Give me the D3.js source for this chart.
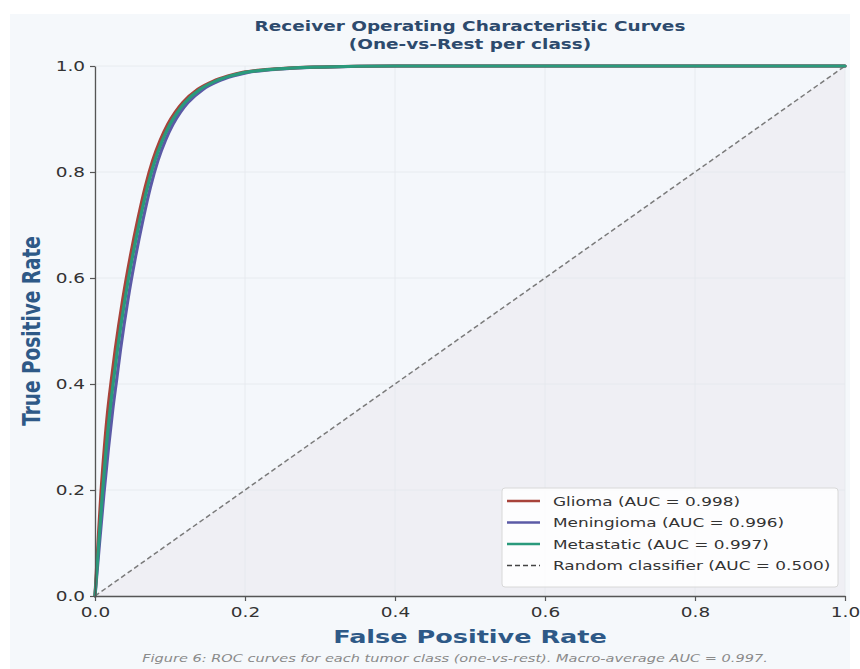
<!DOCTYPE html>
<html>
<head>
<meta charset="utf-8">
<script src="https://cdn.jsdelivr.net/npm/d3@7"></script>
<style>
  html, body { margin: 0; padding: 0; background: #ffffff; }
  svg { display: block; }
</style>
</head>
<body>
<svg id="chart" width="860" height="669"></svg>
<script>
// ---- Data ----
const classNames = ["Glioma", "Meningioma", "Metastatic"];
const aucValues = [0.998, 0.996, 0.997];
const randomAuc = 0.500;

const gliomaFpr = [0, 0.004, 0.008, 0.0125, 0.017, 0.022, 0.027, 0.037, 0.047, 0.057, 0.067, 0.077, 0.087, 0.097, 0.107, 0.117, 0.137, 0.157, 0.177, 0.197, 0.227, 0.257, 0.297, 0.347, 0.397, 1.0];
const gliomaTpr = [0, 0.10, 0.195, 0.28, 0.35, 0.41, 0.465, 0.56, 0.64, 0.71, 0.772, 0.822, 0.86, 0.89, 0.913, 0.931, 0.956, 0.971, 0.981, 0.988, 0.993, 0.996, 0.998, 0.9995, 1.0, 1.0];

const meningiomaFpr = [0, 0.006, 0.012, 0.018, 0.0235, 0.029, 0.034, 0.044, 0.054, 0.064, 0.074, 0.084, 0.094, 0.104, 0.114, 0.124, 0.144, 0.164, 0.184, 0.204, 0.234, 0.264, 0.304, 0.354, 0.404, 1.0];
const meningiomaTpr = [0, 0.10, 0.195, 0.28, 0.35, 0.41, 0.465, 0.56, 0.64, 0.71, 0.772, 0.822, 0.86, 0.89, 0.913, 0.931, 0.956, 0.971, 0.981, 0.988, 0.993, 0.996, 0.998, 0.9995, 1.0, 1.0];

const metastaticFpr = [0, 0.005, 0.010, 0.015, 0.020, 0.025, 0.030, 0.040, 0.050, 0.060, 0.070, 0.080, 0.090, 0.100, 0.110, 0.120, 0.140, 0.160, 0.180, 0.200, 0.230, 0.260, 0.300, 0.350, 0.400, 1.0];
const metastaticTpr = [0, 0.10, 0.195, 0.28, 0.35, 0.41, 0.465, 0.56, 0.64, 0.71, 0.772, 0.822, 0.86, 0.89, 0.913, 0.931, 0.956, 0.971, 0.981, 0.988, 0.993, 0.996, 0.998, 0.9995, 1.0, 1.0];

const diagFpr = [0, 1];
const diagTpr = [0, 1];

const xTicks = [0.0, 0.2, 0.4, 0.6, 0.8, 1.0];
const yTicks = [0.0, 0.2, 0.4, 0.6, 0.8, 1.0];

const titleLines = ["Receiver Operating Characteristic Curves", "(One-vs-Rest per class)"];
const xLabel = "False Positive Rate";
const yLabel = "True Positive Rate";
const caption = "Figure 6: ROC curves for each tumor class (one-vs-rest). Macro-average AUC = 0.997.";

// ---- Styles ----
const colors = ["#a8433a", "#5b5aa6", "#2a9a7c"];
const font = "'DejaVu Sans', sans-serif";
const SX = 1.32; // horizontal stretch of text in the reference

const svg = d3.select("#chart");
const W = 860, H = 669;
const margin = { left: 95, right: 15, top: 66, bottom: 73 };
const pw = W - margin.left - margin.right;
const ph = H - margin.top - margin.bottom;

// figure background
svg.append("rect").attr("x", 10).attr("y", 14).attr("width", 840).attr("height", 655).attr("fill", "#f5f8fb");

const x = d3.scaleLinear().domain([0, 1]).range([margin.left, margin.left + pw]);
const y = d3.scaleLinear().domain([0, 1]).range([margin.top + ph, margin.top]);

// plot background
svg.append("rect").attr("x", x(0)).attr("y", y(1)).attr("width", pw).attr("height", ph).attr("fill", "#f4f7fb");

// shaded area under diagonal
svg.append("path")
  .attr("d", d3.line()([[x(0), y(0)], [x(1), y(1)], [x(1), y(0)]]) + "Z")
  .attr("fill", "#efeff4");

// grid
const g = svg.append("g");
g.selectAll(".gx").data(xTicks).enter().append("line")
  .attr("x1", d => x(d)).attr("x2", d => x(d)).attr("y1", y(0)).attr("y2", y(1))
  .attr("stroke", "#e5e8ee").attr("stroke-width", 0.8);
g.selectAll(".gy").data(yTicks).enter().append("line")
  .attr("y1", d => y(d)).attr("y2", d => y(d)).attr("x1", x(0)).attr("x2", x(1))
  .attr("stroke", "#e5e8ee").attr("stroke-width", 0.8);

// diagonal
svg.append("path")
  .datum(diagFpr.map((f, i) => [f, diagTpr[i]]))
  .attr("d", d3.line().x(d => x(d[0])).y(d => y(d[1])))
  .attr("fill", "none").attr("stroke", "#7a7a7a").attr("stroke-width", 1.5)
  .attr("stroke-dasharray", "5,3");

// curves
const series = [
  { fpr: gliomaFpr, tpr: gliomaTpr },
  { fpr: meningiomaFpr, tpr: meningiomaTpr },
  { fpr: metastaticFpr, tpr: metastaticTpr }
];
const line = d3.line().x(d => x(d[0])).y(d => y(d[1])).curve(d3.curveMonotoneX);
[1, 0, 2].forEach(i => {
  svg.append("path")
    .datum(series[i].fpr.map((f, k) => [f, series[i].tpr[k]]))
    .attr("d", line)
    .attr("fill", "none").attr("stroke", colors[i]).attr("stroke-width", 3.2)
    .attr("stroke-linejoin", "round").attr("stroke-linecap", "round");
});

// axes
const xAxis = svg.append("g").attr("transform", `translate(0,${y(0)})`)
  .call(d3.axisBottom(x).tickValues(xTicks).tickFormat(d3.format(".1f")).tickSize(5).tickSizeOuter(0));
const yAxis = svg.append("g").attr("transform", `translate(${x(0)},0)`)
  .call(d3.axisLeft(y).tickValues(yTicks).tickFormat(d3.format(".1f")).tickSize(5).tickSizeOuter(0));
[xAxis, yAxis].forEach(a => {
  a.select(".domain").attr("stroke", "#555").attr("stroke-width", 1.3);
  a.selectAll(".tick line").attr("stroke", "#555").attr("stroke-width", 1.2);
  a.selectAll(".tick text").attr("font-family", font).attr("font-size", 14).attr("fill", "#333")
    .attr("transform", `scale(${SX},1)`);
});
xAxis.selectAll(".tick text").attr("dy", "0.95em");
yAxis.selectAll(".tick text").attr("x", -7.5);

function stretchedText(px, py, txt, size, weight, fill, anchor, style) {
  return svg.append("text")
    .attr("transform", `translate(${px},${py}) scale(${SX},1)`)
    .attr("text-anchor", anchor || "middle")
    .attr("font-family", font).attr("font-size", size)
    .attr("font-weight", weight || "normal").attr("font-style", style || "normal")
    .attr("fill", fill).text(txt);
}

// title
stretchedText(x(0.5), 31, titleLines[0], 14, "bold", "#2d4a6d");
stretchedText(x(0.5), 49, titleLines[1], 14, "bold", "#2d4a6d");

// axis labels
svg.append("text")
  .attr("transform", `translate(${x(0.5)},643) scale(1.38,1)`)
  .attr("text-anchor", "middle")
  .attr("font-family", font).attr("font-size", 18.5).attr("font-weight", "bold").attr("fill", "#2e5987")
  .text(xLabel);
svg.append("text")
  .attr("transform", `translate(40,${y(0.5)}) rotate(-90) scale(1,1.3)`)
  .attr("text-anchor", "middle")
  .attr("font-family", font).attr("font-size", 18.5).attr("font-weight", "bold").attr("fill", "#2e5987")
  .text(yLabel);

// caption
stretchedText(455, 662, caption, 11, "normal", "#8a8a8a", "middle", "italic");

// legend
const lg = svg.append("g").attr("transform", "translate(502,488)");
lg.append("rect").attr("width", 336).attr("height", 99).attr("rx", 3)
  .attr("fill", "#ffffff").attr("fill-opacity", 0.85).attr("stroke", "#d8d8d8");
const legendItems = classNames.map((n, i) => ({ label: `${n} (AUC = ${aucValues[i].toFixed(3)})`, color: colors[i], dash: null, w: 2.5 }))
  .concat([{ label: `Random classifier (AUC = ${randomAuc.toFixed(3)})`, color: "#444", dash: "5,3", w: 1.5 }]);
legendItems.forEach((d, i) => {
  const yy = 13 + i * 21.5;
  lg.append("line").attr("x1", 5).attr("x2", 38).attr("y1", yy).attr("y2", yy)
    .attr("stroke", d.color).attr("stroke-width", d.w).attr("stroke-dasharray", d.dash);
  lg.append("text").attr("transform", `translate(51,${yy}) scale(${SX - 0.02},1)`).attr("dy", "0.35em")
    .attr("font-family", font).attr("font-size", 13).attr("fill", "#333").text(d.label);
});
</script>
</body>
</html>
